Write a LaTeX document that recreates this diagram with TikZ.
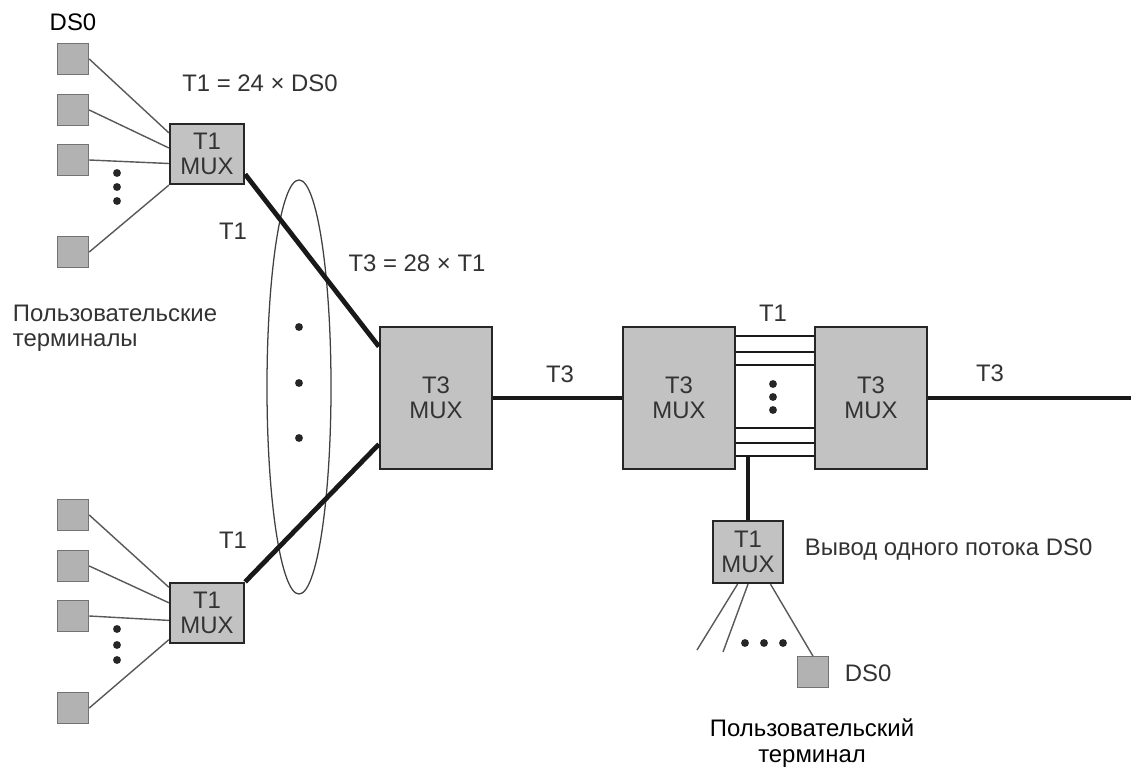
\documentclass[tikz,border=0pt]{standalone}
\usepackage{fontspec}
\setmainfont{Liberation Sans}
\usetikzlibrary{shapes.geometric}

\begin{document}
\begin{tikzpicture}[x=0.025cm, y=-0.025cm,
	every node/.style={font=\fontsize{17}{18}\selectfont, text=black!80},
	ds/.style={draw=black!55, fill=black!30, line width=0.9pt, minimum size=0.78cm, inner sep=0pt},
	tmux/.style={draw=black!85, fill=black!24, line width=1.6pt, minimum width=1.85cm, minimum height=1.5cm, inner sep=0pt, align=center},
	tbig/.style={tmux, minimum width=2.8cm, minimum height=3.55cm},
	tap/.style={draw=black!65, line width=1pt},
	trunk/.style={draw=black!90, line width=3.4pt},
	blob/.style={fill=black!85}]
	\fill[white] (0,0) rectangle (1131,767);
	\useasboundingbox (0,0) rectangle (1131,767);
	\node[draw=black!75, line width=0.9pt, ellipse, minimum width=1.6cm, minimum height=10.35cm, inner sep=0pt] (bundle) at (299,387) {};
	\node[ds] (ds1) at (73,59) {};
	\node[ds] (ds2) at (73,110) {};
	\node[ds] (ds3) at (73,160) {};
	\node[ds] (ds4) at (73,252) {};
	\node[ds] (db1) at (73,515) {};
	\node[ds] (db2) at (73,566) {};
	\node[ds] (db3) at (73,616) {};
	\node[ds] (db4) at (73,708) {};
	\node[tmux] (t1a) at (207,154) {T1\\MUX};
	\node[tmux] (t1b) at (207,613) {T1\\MUX};
	\node[tbig] (t3a) at (436,398) {T3\\MUX};
	\node[tbig] (t3b) at (679,398) {T3\\MUX};
	\node[tbig] (t3c) at (871,398) {T3\\MUX};
	\node[tmux, minimum width=1.75cm, minimum height=1.55cm] (t1c) at (748,552) {T1\\MUX};
	\node[ds, minimum size=0.76cm] (dsc) at (813,672) {};
	\coordinate (t3end) at (1131,398);
	\coordinate (ta) at (697,650);
	\coordinate (tb) at (723,652);
	\node[text=black] (ds0top) at (73,22) {DS0};
	\node (t1eq) at (260,83) {T1 = 24 × DS0};
	\node (t1up) at (233,231) {T1};
	\node (t3eq) at (417,263) {T3 = 28 × T1};
	\node[anchor=west, align=left] (users) at (8,328) {Пользовательские\\терминалы};
	\node (t1low) at (233,540) {T1};
	\node (t3mid) at (560,374) {T3};
	\node (t1mid) at (773,313) {T1};
	\node (t3out) at (990,373) {T3};
	\node[anchor=west] (drop) at (800,550) {Вывод одного потока DS0};
	\node[anchor=west] (ds0low) at (840,673) {DS0};
	\node[text=black, align=center] (user) at (812,743) {Пользовательский\\терминал};
	\foreach \i/\a in {1/151,2/171,3/194} \draw[tap] (ds\i.east) -- (t1a.\a);
	\draw[tap] (ds4.east) -- (t1a.south west);
	\foreach \i/\a in {1/146,2/165,3/191,4/215} \draw[tap] (db\i.east) -- (t1b.\a);
	\draw[trunk] (t1a.332) -- (t3a.138);
	\draw[trunk] (t1b.north east) -- (t3a.219);
	\draw[trunk] (t3a) -- (t3b);
	\draw[trunk] (t3c) -- (t3end);
	\foreach \y in {336,352,365,428,443,456} \draw[black!90, line width=1.8pt] (t3b.east |- 0,\y) -- (t3c.west |- 0,\y);
	\draw[trunk] (t1c.north |- 0,456) -- (t1c.north);
	\draw[tap] (t1c.252) -- (ta);
	\draw[tap] (t1c.south) -- (tb);
	\draw[tap] (t1c.305) -- (dsc.north);
	\foreach \y in {173,187,201,629,645,660} \fill[blob] (117,\y) circle (2.8pt);
	\foreach \y in {327,383,438} \fill[blob] (299,\y) circle (2.8pt);
	\foreach \y in {384,397,410} \fill[blob] (773,\y) circle (2.8pt);
	\foreach \x in {745,764,783} \fill[blob] (\x,643) circle (2.8pt);
\end{tikzpicture}
\end{document}
